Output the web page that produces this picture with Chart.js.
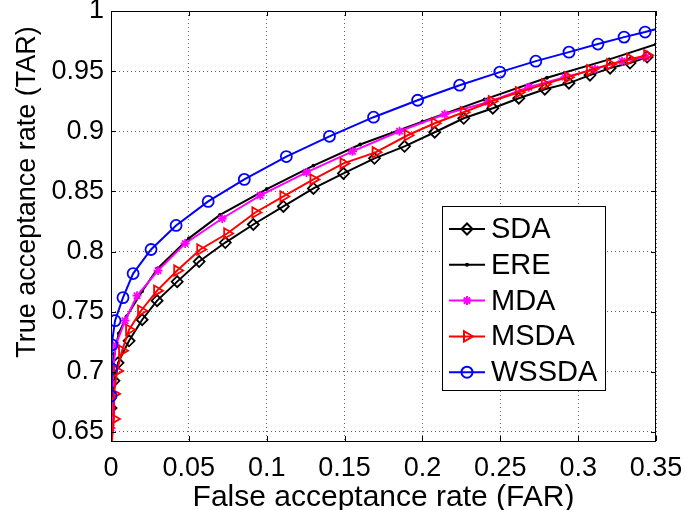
<!DOCTYPE html>
<html>
<head>
<meta charset="utf-8">
<script src="https://cdn.jsdelivr.net/npm/chart.js@4/dist/chart.umd.min.js"></script>
<style>
  body { margin: 0; background: #fff; }
  canvas { display: block; }
</style>
</head>
<body>
<canvas id="roc" width="685" height="510"></canvas>
<script>
// tick labels
var xTicks = [0, 0.05, 0.1, 0.15, 0.2, 0.25, 0.3, 0.35];
var yTicks = [0.65, 0.7, 0.75, 0.8, 0.85, 0.9, 0.95, 1];

// SDA
var sdaX = [0, 0.0019, 0.0045, 0.0116, 0.02, 0.0296, 0.0425, 0.0566, 0.0734, 0.0914, 0.1107, 0.13, 0.1493, 0.1692, 0.1885, 0.2079, 0.2265, 0.2452, 0.2619, 0.2786, 0.2941, 0.3076, 0.3205, 0.3333, 0.3443];
var sdaY = [0.67, 0.6925, 0.7075, 0.7258, 0.7433, 0.7592, 0.775, 0.7917, 0.8075, 0.8225, 0.8375, 0.8525, 0.865, 0.8775, 0.8875, 0.8992, 0.9108, 0.9192, 0.9275, 0.935, 0.94, 0.9467, 0.9525, 0.9567, 0.9617];

// ERE
var ereX = [0, 0.0005, 0.002, 0.005, 0.01, 0.02, 0.03, 0.05, 0.07, 0.1, 0.13, 0.16, 0.2, 0.24, 0.28, 0.32, 0.35];
var ereY = [0.645, 0.69, 0.715, 0.732, 0.746, 0.767, 0.786, 0.811, 0.8305, 0.852, 0.8715, 0.889, 0.908, 0.9265, 0.9445, 0.9598, 0.9725];

// MDA
var mdaX = [0, 0.0006, 0.003, 0.009, 0.0167, 0.0302, 0.0476, 0.0714, 0.0959, 0.1255, 0.1551, 0.1853, 0.2143, 0.242, 0.2683, 0.2915, 0.3108, 0.3282, 0.3436];
var mdaY = [0.6533, 0.69, 0.722, 0.7425, 0.7633, 0.7842, 0.8067, 0.8275, 0.8467, 0.8658, 0.8833, 0.9, 0.9142, 0.9242, 0.9367, 0.945, 0.9517, 0.9583, 0.9617];

// MSDA
var msdaX = [0, 0.0019, 0.0019, 0.0039, 0.0071, 0.0116, 0.0193, 0.0296, 0.0425, 0.0573, 0.0746, 0.0927, 0.1107, 0.13, 0.1493, 0.1699, 0.1905, 0.2079, 0.2265, 0.2445, 0.2619, 0.2786, 0.2934, 0.3076, 0.3205, 0.3333, 0.3443];
var msdaY = [0.635, 0.6608, 0.6817, 0.7008, 0.7175, 0.735, 0.7508, 0.7675, 0.7842, 0.8017, 0.815, 0.8325, 0.8458, 0.86, 0.8733, 0.8825, 0.8967, 0.9067, 0.9158, 0.925, 0.9325, 0.9392, 0.945, 0.9508, 0.9558, 0.96, 0.9633];

// WSSDA
var wssdaX = [0, 0.0003, 0.0006, 0.0026, 0.0077, 0.0142, 0.0257, 0.0418, 0.0624, 0.0856, 0.1126, 0.1403, 0.1686, 0.1969, 0.2239, 0.2497, 0.2728, 0.2941, 0.3127, 0.3295, 0.343, 0.3546];
var wssdaY = [0.68, 0.7025, 0.7225, 0.7425, 0.7617, 0.7817, 0.8017, 0.8217, 0.8417, 0.86, 0.879, 0.8958, 0.9117, 0.9258, 0.9383, 0.9492, 0.9583, 0.9658, 0.9725, 0.9783, 0.9825, 0.9865];

var FONT = "'Liberation Sans', Arial, Helvetica, sans-serif";

function pts(xs, ys) {
  return xs.map(function (x, i) { return { x: x, y: ys[i] }; });
}

function series(label, xs, ys, color, style, radius, rot, order) {
  return {
    label: label,
    data: pts(xs, ys),
    showLine: true,
    borderColor: color,
    borderWidth: 2,
    pointStyle: style,
    pointRadius: radius,
    pointRotation: rot,
    pointBorderWidth: 1.8,
    pointBorderColor: color,
    pointBackgroundColor: style === 'circle' && radius < 2 ? color : 'rgba(0,0,0,0)',
    pointHoverRadius: radius,
    tension: 0,
    order: order
  };
}

var datasets = [
  series('SDA', sdaX, sdaY, '#000000', 'rectRot', 5.5, 0, 5),
  series('ERE', ereX, ereY, '#000000', 'circle', 1, 0, 4),
  series('MDA', mdaX, mdaY, '#ff00ff', 'star', 4.5, 0, 3),
  series('MSDA', msdaX, msdaY, '#ff0000', 'triangle', 6, 90, 2),
  series('WSSDA', wssdaX, wssdaY, '#0000ff', 'circle', 5.5, 0, 1)
];

// box, inward ticks, legend and y title
var matlabFrame = {
  id: 'matlabFrame',
  afterDraw: function (chart) {
    var ctx = chart.ctx, a = chart.chartArea;
    var xs = chart.scales.x, ys = chart.scales.y;
    ctx.save();
    ctx.strokeStyle = '#000';
    ctx.lineWidth = 1;
    ctx.setLineDash([]);
    ctx.strokeRect(a.left + 0.5, a.top + 0.5, a.right - a.left - 1, a.bottom - a.top);
    ctx.beginPath();
    xTicks.forEach(function (v) {
      var px = Math.round(xs.getPixelForValue(v)) + 0.5;
      ctx.moveTo(px, a.bottom); ctx.lineTo(px, a.bottom - 5);
      ctx.moveTo(px, a.top); ctx.lineTo(px, a.top + 5);
    });
    yTicks.forEach(function (v) {
      var py = Math.round(ys.getPixelForValue(v)) + 0.5;
      ctx.moveTo(a.left, py); ctx.lineTo(a.left + 5, py);
      ctx.moveTo(a.right, py); ctx.lineTo(a.right - 5, py);
    });
    ctx.stroke();

    // y axis title
    ctx.save();
    ctx.translate(28, 192);
    ctx.rotate(-Math.PI / 2);
    ctx.fillStyle = '#000';
    ctx.font = '27px ' + FONT;
    ctx.textAlign = 'center';
    ctx.textBaseline = 'middle';
    ctx.fillText('True acceptance rate (TAR)', 0, 0);
    ctx.restore();

    // legend
    var L = 442, T = 206, R = 605, B = 390;
    ctx.fillStyle = '#fff';
    ctx.fillRect(L, T, R - L, B - T);
    ctx.strokeStyle = '#000';
    ctx.strokeRect(L + 0.5, T + 0.5, R - L, B - T);
    ctx.font = '29px ' + FONT;
    ctx.textAlign = 'left';
    ctx.textBaseline = 'middle';
    chart.data.datasets.forEach(function (ds, i) {
      var cy = T + 23 + i * 35.8;
      ctx.strokeStyle = ds.borderColor;
      ctx.lineWidth = 2;
      ctx.beginPath();
      ctx.moveTo(449, cy); ctx.lineTo(485, cy);
      ctx.stroke();
      ctx.fillStyle = ds.pointBackgroundColor;
      Chart.helpers.drawPoint(ctx, {
        pointStyle: ds.pointStyle,
        rotation: ds.pointRotation,
        radius: ds.pointRadius,
        borderWidth: ds.pointBorderWidth
      }, 467, cy);
      ctx.fillStyle = '#000';
      ctx.fillText(ds.label, 491, cy + 1);
    });
    ctx.restore();
  }
};

function fixTicks(list) {
  return function (axis) {
    axis.ticks = list.map(function (v) { return { value: v }; });
  };
}

new Chart(document.getElementById('roc'), {
  type: 'scatter',
  data: { datasets: datasets },
  options: {
    responsive: false,
    animation: false,
    layout: { padding: { top: 11, right: 29, left: 0, bottom: 0 } },
    plugins: { legend: { display: false }, tooltip: { enabled: false } },
    scales: {
      x: {
        type: 'linear',
        min: 0,
        max: 0.35,
        afterBuildTicks: fixTicks(xTicks),
        afterFit: function (s) { s.height = 69; s.paddingLeft = 0; s.paddingRight = 0; },
        ticks: {
          color: '#000',
          padding: 11,
          maxRotation: 0,
          font: { family: FONT, size: 27 },
          callback: function (v) { return String(parseFloat(v.toFixed(2))); }
        },
        grid: { color: 'rgba(0,0,0,0.6)', lineWidth: 1, drawTicks: false },
        border: { display: false, dash: [1, 3] },
        title: {
          display: true,
          text: 'False acceptance rate (FAR)',
          color: '#000',
          padding: 0,
          font: { family: FONT, size: 30, lineHeight: 0.8 }
        }
      },
      y: {
        type: 'linear',
        min: 0.6425,
        max: 1,
        afterBuildTicks: fixTicks(yTicks),
        afterFit: function (s) { s.width = 111; s.paddingTop = 0; s.paddingBottom = 0; },
        ticks: {
          color: '#000',
          padding: 7,
          font: { family: FONT, size: 27 },
          callback: function (v) { return String(parseFloat(v.toFixed(2))); }
        },
        grid: { color: 'rgba(0,0,0,0.6)', lineWidth: 1, drawTicks: false },
        border: { display: false, dash: [1, 3] }
      }
    }
  },
  plugins: [matlabFrame]
});
</script>
</body>
</html>
